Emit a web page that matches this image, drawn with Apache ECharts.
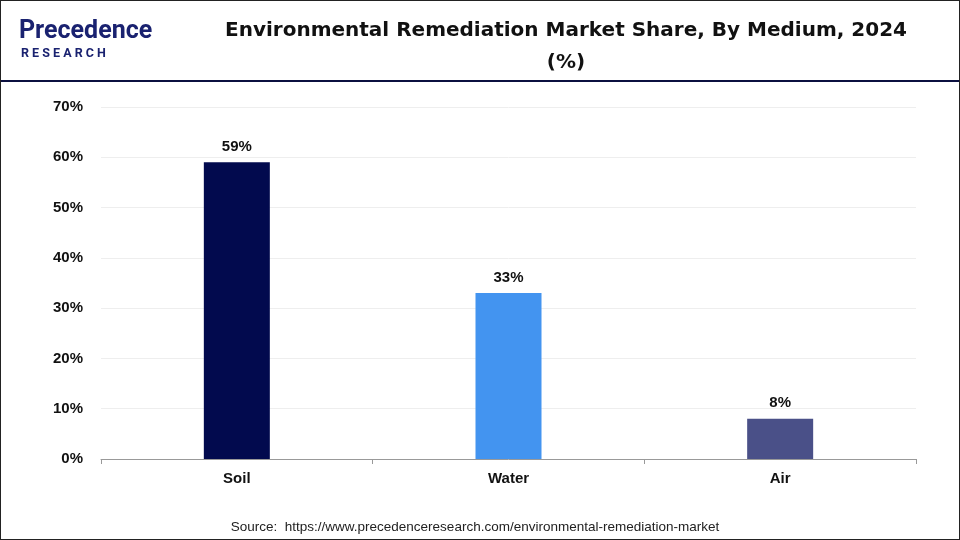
<!DOCTYPE html>
<html><head><meta charset="utf-8">
<script src="https://cdn.jsdelivr.net/npm/echarts@6/dist/echarts.min.js"></script>
<style>
html,body{margin:0;padding:0;background:#fff;}
#wrap{position:relative;width:958px;height:538px;border:1px solid #222;}
#c{position:absolute;left:0;top:0;width:958px;height:538px;}
#hdr{position:absolute;left:0;top:79px;width:958px;height:2px;background:#0b1040;}
</style></head><body>
<div id="wrap"><div id="c"></div><div id="hdr"></div></div>
<script>
const categories = ["Soil","Water","Air"];
const values = [59,33,8];
const colors = ["#020a4e","#4394f0","#4a5088"];
const yTicks = [0,10,20,30,40,50,60,70];
const F = "'Liberation Sans', Arial, sans-serif";
const chart = echarts.init(document.getElementById('c'));
chart.setOption({
  animation:false,
  title:[{text:"Environmental Remediation Market Share, By Medium, 2024\n(%)",left:560,top:9,textAlign:'center',
    textStyle:{fontFamily:'DejaVu Sans',fontSize:20,fontWeight:'bold',color:'#111',lineHeight:32}},
    {text:"Source:  https://www.precedenceresearch.com/environmental-remediation-market",left:469,top:514,textAlign:'center',
    textStyle:{fontFamily:F,fontSize:13.5,fontWeight:'normal',color:'#222'}}],
  graphic:[
    {type:'text',left:18,top:18,style:{text:'Precedence',fontFamily:'Roboto',fontSize:25,fontWeight:'bold',fill:'#1a2270'}},
    {type:'text',left:20,top:46,style:{text:'R E S E A R C H',fontFamily:'Roboto',fontSize:12.5,fontWeight:'bold',fill:'#1a2270'}}
  ],
  grid:{left:100,right:43,top:106,bottom:80},
  xAxis:{type:'category',data:categories,
    axisLine:{lineStyle:{color:'#999'}},axisTick:{show:true,lineStyle:{color:'#999'}},
    axisLabel:{fontFamily:F,fontSize:15,fontWeight:'bold',color:'#111',margin:12}},
  yAxis:{type:'value',min:0,max:70,interval:10,
    axisLabel:{formatter:v=>v+'%',fontFamily:F,fontSize:15,fontWeight:'bold',color:'#111',margin:18},
    splitLine:{lineStyle:{color:'#eee'}},axisLine:{show:false},axisTick:{show:false}},
  series:[{type:'bar',barWidth:66,
    data:values.map((v,i)=>({value:v,itemStyle:{color:colors[i]}})),
    label:{show:true,position:'top',formatter:'{c}%',fontFamily:F,fontSize:15,fontWeight:'bold',color:'#111',distance:8}}]
});
</script></body></html>
